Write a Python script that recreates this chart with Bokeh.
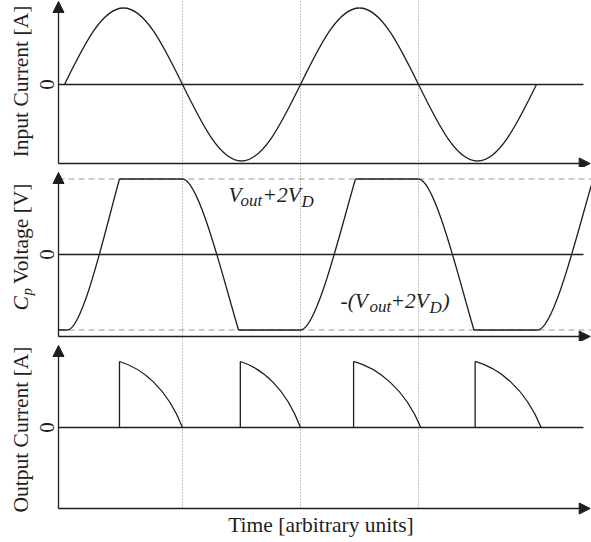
from bokeh.plotting import figure
from bokeh.models import Range1d, Arrow, NormalHead, Label, ColumnDataSource
from bokeh.layouts import column
from bokeh.embed import file_html
from bokeh.resources import INLINE

# ---------------- data (time unit = half a period of the input current) ----------------
i_in_zero_t = [0.0, 1.0, 2.0, 3.0, 4.0]          # zero crossings of the input current
i_in_peak = [1.0, -1.0, 1.0, -1.0]               # peak of each half cycle
guide_t = [1.0, 2.0, 3.0]                        # dotted guides

v_clamp = 1.0                                    # +/-(Vout + 2VD)
v_start_t = -0.05
v_edge_t0 = [0.025, 1.0, 2.0, 3.0, 4.01]         # voltage leaves a clamp
v_edge_t1 = [0.466, 1.475, 2.466, 3.47, 4.48]    # voltage reaches the other clamp
v_edge_sign = [1, -1, 1, -1, 1]

i_out_t0 = [0.466, 1.49, 2.45, 3.48]             # output current pulses start
i_out_t1 = [1.0, 2.0, 3.02, 4.04]                # and end
i_out_peak = [1.0, 1.0, 1.0, 1.0]

zero_tick = "0"
y_titles = ["Input Current [A]", "Voltage [V]", "Output Current [A]"]
x_title = "Time [arbitrary units]"

# ---------------- style / layout ----------------
SERIF = "Liberation Serif"
INK = "#1e1e1e"
LW = 1.3
T_LO, T_HI = -0.5424, 4.4661
T_AXIS, T_TIP, T_ZERO_END = -0.0508, 4.455, 4.398
Q1X, Q1Y, Q2X = 0.3343, 0.5251, 0.6401          # cubic handles of a quarter sine
ROT = 1.5708
BKEYS = ("x0", "y0", "x1", "y1", "cx0", "cy0", "cx1", "cy1")


def make_fig(height, y_lo, y_hi):
    p = figure(width=591, height=height, x_range=Range1d(T_LO, T_HI),
               y_range=Range1d(y_lo, y_hi), output_backend="svg",
               toolbar_location=None, tools="",
               x_axis_location=None, y_axis_location=None,
               min_border_left=0, min_border_right=0, min_border_top=0, min_border_bottom=0)
    p.outline_line_color = None
    p.grid.grid_line_color = None
    p.background_fill_color = "white"
    return p


def add_axes(p, y_axis, y_tip, guide_lo, guide_hi, zero_label_x):
    n = len(guide_t)
    p.segment(x0=guide_t, y0=[guide_lo] * n, x1=guide_t, y1=[guide_hi] * n,
              line_color="#8a8a8a", line_dash="1 2", line_width=1)
    head = dict(size=11, fill_color=INK, line_color=INK, line_width=1)
    p.add_layout(Arrow(end=NormalHead(**head), x_start=T_AXIS, y_start=y_axis,
                       x_end=T_AXIS, y_end=y_tip, line_color=INK, line_width=LW))
    p.add_layout(Arrow(end=NormalHead(**head), x_start=T_AXIS, y_start=y_axis,
                       x_end=T_TIP, y_end=y_axis, line_color=INK, line_width=LW))
    p.segment(x0=[T_AXIS], y0=[0], x1=[T_ZERO_END], y1=[0], line_color=INK, line_width=LW)
    p.add_layout(Label(x=zero_label_x, y=0, text=zero_tick, angle=ROT, text_font=SERIF,
                       text_font_size="21px", text_color=INK, text_align="center",
                       text_baseline="middle"))


def title(p, x, y, text, align="center", size="21.5px", style="normal", **kw):
    p.add_layout(Label(x=x, y=y, text=text, angle=ROT, text_font=SERIF, text_font_size=size,
                       text_color=INK, text_align=align, text_baseline="middle",
                       text_font_style=style, **kw))


TICK_X = -0.1483
TITLE_X = -0.3686

# ---------------- panel 1: input current ----------------
p1 = make_fig(167, -1.085, 1.098)
add_axes(p1, -1.0327, 1.085, -1.085, 1.098, TICK_X)
b = {k: [] for k in BKEYS}
for k, a in enumerate(i_in_peak):
    t0, t1 = i_in_zero_t[k], i_in_zero_t[k + 1]
    h = (t1 - t0) / 2
    tm = t0 + h
    for seg in ((t0, 0, tm, a, t0 + Q1X * h, Q1Y * a, t0 + Q2X * h, a),
                (tm, a, t1, 0, t1 - Q2X * h, a, t1 - Q1X * h, Q1Y * a)):
        for key, v in zip(BKEYS, seg):
            b[key].append(v)
p1.bezier(x0="x0", y0="y0", x1="x1", y1="y1", cx0="cx0", cy0="cy0", cx1="cx1", cy1="cy1",
          source=ColumnDataSource(b), line_color=INK, line_width=LW)
title(p1, TITLE_X, 0.039, y_titles[0])

# ---------------- panel 2: Cp voltage ----------------
p2 = make_fig(174, -1.1523, 1.1523)
p2.segment(x0=[T_AXIS, T_AXIS], y0=[v_clamp, -v_clamp], x1=[T_HI, T_HI], y1=[v_clamp, -v_clamp],
           line_color="#9a9a9a", line_dash="6 4", line_width=1.2)
add_axes(p2, -1.0861, 1.0861, -1.1523, 1.1523, TICK_X)
fx0, fx1, fy = [v_start_t], [v_edge_t0[0]], [-v_edge_sign[0] * v_clamp]
for k in range(len(v_edge_t0) - 1):
    fx0.append(v_edge_t1[k])
    fx1.append(v_edge_t0[k + 1])
    fy.append(v_edge_sign[k] * v_clamp)
p2.segment(x0=fx0, y0=fy, x1=fx1, y1=fy, line_color=INK, line_width=LW)
e = {k: [] for k in BKEYS}
for t0, t1, s in zip(v_edge_t0, v_edge_t1, v_edge_sign):
    d = t1 - t0
    y0, y1 = -s * v_clamp, s * v_clamp
    for key, v in zip(BKEYS, (t0, y0, t1, y1, t0 + 0.3 * d, y0, t1 - 0.25 * d,
                              y1 - s * 0.61 * v_clamp)):
        e[key].append(v)
p2.bezier(x0="x0", y0="y0", x1="x1", y1="y1", cx0="cx0", cy0="cy0", cx1="cx1", cy1="cy1",
          source=ColumnDataSource(e), line_color=INK, line_width=LW)

# y title "C_p Voltage [V]"
title(p2, TITLE_X, -0.7417, "C", align="left", style="italic")
title(p2, TITLE_X, -0.7417, "p", align="left", style="italic",
      size="15px", x_offset=6, y_offset=15)
title(p2, TITLE_X, 0.9404, y_titles[1], align="right")

# in-plot annotations (anchor = middle of the capitals)
ann = dict(text_font=SERIF, text_color=INK, text_font_style="italic",
           text_align="left", text_baseline="middle")
for x, y, pieces in ((1.3898, 0.7815, [("V", 0, 0, 21.5), ("out", 12, -5.5, 17),
                                       ("+2V", 34, 0, 21.5), ("D", 73, -6.5, 17)]),
                     (2.339, -0.6093, [("-(V", 0, 0, 21.5), ("out", 29, -5.5, 17),
                                       ("+2V", 50, 0, 21.5), ("D", 89, -6.5, 17),
                                       (")", 102, 0, 21.5)])):
    for txt, dx, dy, fs in pieces:
        p2.add_layout(Label(x=x, y=y, text=txt, x_offset=dx, y_offset=dy,
                            text_font_size=f"{fs}px", **ann))

# ---------------- panel 3: output current ----------------
p3 = make_fig(200, -1.7273, 1.303)
add_axes(p3, -1.2273, 1.2424, -1.2273, 1.303, TICK_X)
p3.segment(x0=i_out_t0, y0=[0] * len(i_out_t0), x1=i_out_t0, y1=i_out_peak,
           line_color=INK, line_width=LW)
o = {k: [] for k in BKEYS}
for t0, t1, pk in zip(i_out_t0, i_out_t1, i_out_peak):
    d = t1 - t0
    for key, v in zip(BKEYS, (t0, pk, t1, 0, t0 + 0.35 * d, 0.9 * pk, t1 - 0.25 * d, 0.61 * pk)):
        o[key].append(v)
p3.bezier(x0="x0", y0="y0", x1="x1", y1="y1", cx0="cx0", cy0="cy0", cx1="cx1", cy1="cy1",
          source=ColumnDataSource(o), line_color=INK, line_width=LW)
title(p3, TITLE_X, -0.03, y_titles[2])
p3.add_layout(Label(x=2.1737, y=-1.4758, text=x_title, text_font=SERIF, text_font_size="21.5px",
                    text_color=INK, text_align="center", text_baseline="middle"))

layout = column(p1, p2, p3, spacing=0)
open("out.html", "w").write(file_html(layout, INLINE))
